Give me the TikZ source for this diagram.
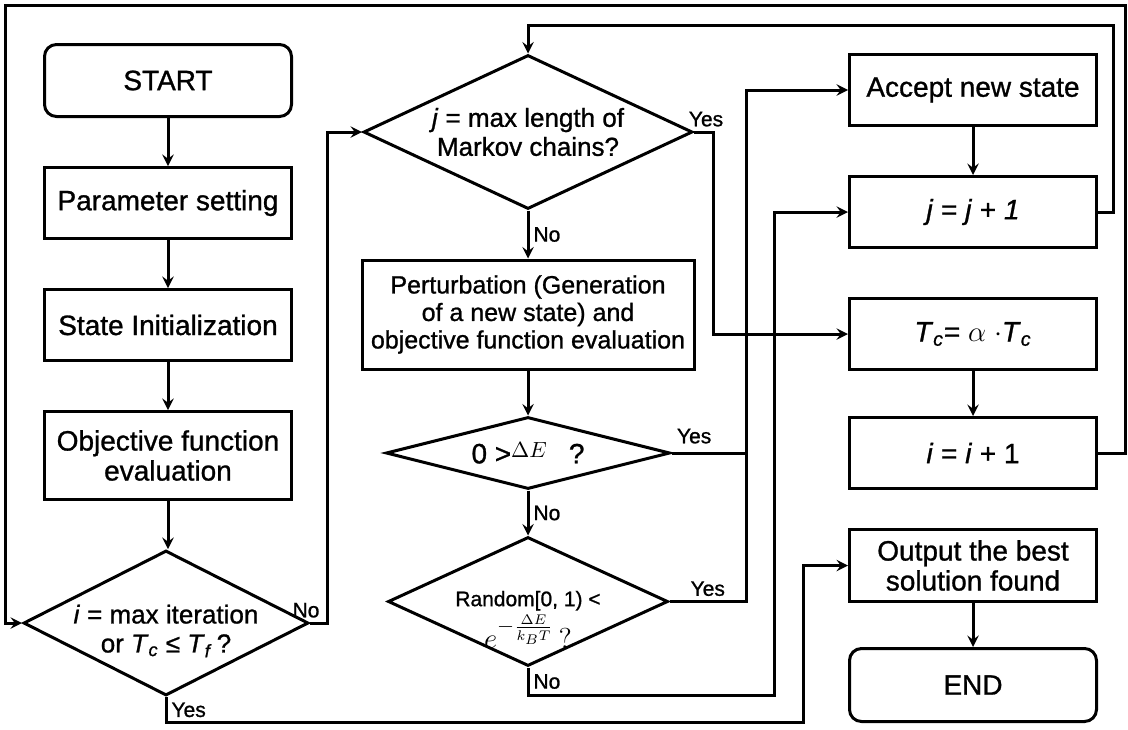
\documentclass[tikz,border=0pt]{standalone}
\usepackage{fontspec}
\setmainfont{Liberation Sans}[FakeBold=1]
\usepackage{amsmath}
\usetikzlibrary{shapes.geometric, arrows, positioning, calc}

\begin{document}
\begin{tikzpicture}[
    x=0.5pt, y=-0.5pt,
    node distance=24pt,
    line width=1.5pt,
    terminal/.style={rectangle, draw, rounded corners=6pt, minimum width=123.5pt, minimum height=36pt, font=\fontsize{14}{15}\selectfont},
    process/.style={rectangle, draw, minimum width=123.5pt, minimum height=35.5pt, align=center, font=\fontsize{14}{15}\selectfont},
    decision/.style={diamond, draw, inner sep=0pt},
    cond/.style={align=center, font=\fontsize{13}{14.5}\selectfont},
    tag/.style={font=\fontsize{10.5}{12}\selectfont, inner sep=2pt},
    arrow/.style={->, >=stealth}
]
    \useasboundingbox (0,0) rectangle (1128,729);

    % Initialization
    \node[terminal] (start) at (168,80.5) {START};
    \node[process, below=of start] (param) {Parameter setting};
    \node[process, below=of param] (init) {State Initialization};
    \node[process, below=of init, minimum height=44pt] (objeval) {Objective function\\evaluation};
    \node[decision, below=of objeval, xshift=-1pt, minimum width=142.5pt, minimum height=72.5pt,
        label={[cond, yshift=-4pt]center:{\textit{i} = max iteration\\or \textit{T}\textsubscript{\textit{c}} ≤ \textit{T}\textsubscript{\textit{f}}\,?}}] (stopcheck) {};

    % Markov chain
    \node[decision, minimum width=164.5pt, minimum height=77pt,
        label={[cond]center:{\textit{j} = max length of\\Markov chains?}}] (chaincheck) at (528,132) {};
    \node[process, below=of chaincheck, minimum width=166pt, minimum height=54.5pt, font=\fontsize{12.5}{13.75}\selectfont] (perturb) {Perturbation (Generation\\of a new state) and\\objective function evaluation};
    \node[decision, below=22.5pt of perturb, minimum width=142pt, minimum height=36pt,
        label={[cond, font=\fontsize{14}{15}\selectfont]center:{0 >\raisebox{3pt}{\fontsize{11}{12}\selectfont$\Delta E$}\hspace{11pt}?}}] (deltacheck) {};
    \node[decision, below=22.5pt of deltacheck, minimum width=140pt, minimum height=64.5pt,
        label={[cond, yshift=-9pt]center:{{\fontsize{10.5}{12}\selectfont Random[0, 1) <}\\[1pt]{\fontsize{15}{15}\selectfont $e^{-\frac{\Delta E}{k_B T}}\,?$}}}] (metro) {};

    % Update and output
    \node[process] (accept) at (973,90) {Accept new state};
    \node[process, below=of accept] (incj) {\textit{j} = \textit{j} + \textit{1}};
    \node[process, below=of incj] (cool) {\textit{T}\textsubscript{\textit{c}}= $\alpha$ $\cdot$\textit{T}\textsubscript{\textit{c}}};
    \node[process, below=22.5pt of cool] (inci) {\textit{i} = \textit{i} + 1};
    \node[process, below=19pt of inci, minimum height=36pt] (output) {Output the best\\solution found};
    \node[terminal, below=22pt of output, minimum height=36.5pt] (finish) {END};

    % Loop corners
    \coordinate (outer ne) at (1125,5);
    \coordinate (outer nw) at (5,5);
    \coordinate (inner ne) at (1113,25);
    \coordinate (accept bus) at ([xshift=-51pt]accept.west);

    % Arrows
    \draw[arrow] (start) -- (param);
    \draw[arrow] (param) -- (init);
    \draw[arrow] (init) -- (objeval);
    \draw[arrow] (objeval.south) -- (objeval.south |- stopcheck.north);
    \draw[arrow] (stopcheck.east) node[tag, above, xshift=-2pt] {No} -| ([xshift=-17.5pt]chaincheck.west) -- (chaincheck.west);
    \draw[arrow] (stopcheck.south) node[tag, below right] {Yes} -- ++(0,-12.5pt) -| ([xshift=-22.5pt]output.west) -- (output.west);
    \draw[arrow] (chaincheck) -- node[tag, right] {No} (perturb);
    \draw[arrow] (chaincheck.east) node[tag, above, xshift=6pt] {Yes} -- ++(9.5pt,0) |- (cool.west);
    \draw[arrow] (perturb) -- (deltacheck);
    \draw[arrow] (deltacheck.east) node[tag, above right, yshift=2pt] {Yes} -| (accept bus) -- (accept.west);
    \draw[arrow] (deltacheck) -- node[tag, right] {No} (metro);
    \draw (metro.east) -| node[tag, pos=0.25, above] {Yes} (accept bus);
    \draw[arrow] (metro.south) -- node[tag, right] {No} ++(0,-14pt) -| ([xshift=-37pt]incj.west) -- (incj.west);
    \draw[arrow] (accept) -- (incj);
    \draw[arrow] (incj.east) -| (inner ne) -| (chaincheck.north);
    \draw[arrow] (cool) -- (inci);
    \draw[arrow] (inci.east) -| (outer ne) -- (outer nw) |- (stopcheck.west);
    \draw[arrow] (output) -- (finish);

\end{tikzpicture}
\end{document}
